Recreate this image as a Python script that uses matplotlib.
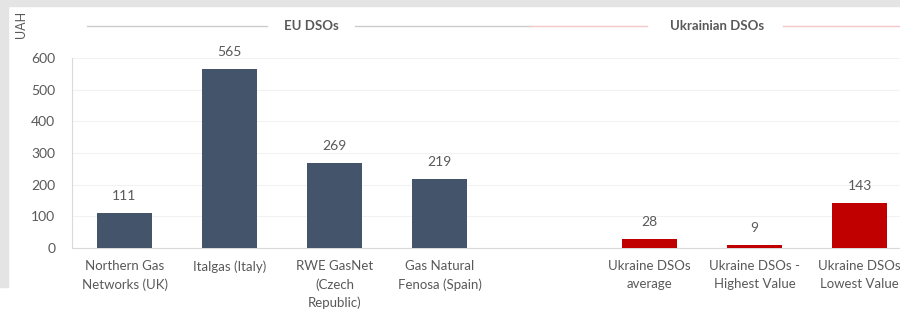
import matplotlib.pyplot as plt
import matplotlib.patches as mpatches
from matplotlib.lines import Line2D
import numpy as np

plt.rcParams['font.family'] = ['Lato', 'DejaVu Sans']

eu_labels = ['Northern Gas\nNetworks (UK)', 'Italgas (Italy)', 'RWE GasNet\n(Czech\nRepublic)', 'Gas Natural\nFenosa (Spain)']
eu_values = [111, 565, 269, 219]
ua_labels = ['Ukraine DSOs\naverage', 'Ukraine DSOs -\nHighest Value', 'Ukraine DSOs\nLowest Value']
ua_values = [28, 9, 143]
yticks = [0, 100, 200, 300, 400, 500, 600]

eu_color = '#44546a'
ua_color = '#c00000'
txt = '#595959'

fig = plt.figure(figsize=(9, 3.19), dpi=100)
fig.patch.set_facecolor('white')

# grey page strips around the pasted chart
fig.add_artist(mpatches.Rectangle((0, 1 - 6/319), 1, 6/319, transform=fig.transFigure,
                                  color='#e4e4e4', zorder=0))
fig.add_artist(mpatches.Rectangle((0, 1 - 287/319), 8/900, 287/319, transform=fig.transFigure,
                                  color='#e4e4e4', zorder=0))

ax = fig.add_axes([72/900, 1 - 248/319, 840/900, 190/319])

eu_x = np.arange(len(eu_values))
ua_x = np.arange(len(ua_values)) + len(eu_values) + 1
w = 0.52
b1 = ax.bar(eu_x, eu_values, width=w, color=eu_color, zorder=3)
b2 = ax.bar(ua_x, ua_values, width=w, color=ua_color, zorder=3)

for bars, vals in [(b1, eu_values), (b2, ua_values)]:
    for r, v in zip(bars, vals):
        ax.annotate(str(v), (r.get_x() + r.get_width()/2, v), xytext=(0, 8),
                    textcoords='offset points', ha='center', va='bottom',
                    fontsize=10, color=txt)

ax.set_xlim(-0.5, 7.5)
ax.set_ylim(0, 600)
ax.set_yticks(yticks)
ax.set_xticks(list(eu_x) + list(ua_x))
ax.set_xticklabels(eu_labels + ua_labels, fontsize=9.5, color=txt, linespacing=1.55)
ax.tick_params(axis='y', length=0, labelsize=10, labelcolor=txt, pad=12)
ax.tick_params(axis='x', length=0, pad=9)
ax.yaxis.grid(True, color='#f2f2f2', linewidth=0.8, zorder=0)
for s in ['top', 'right']:
    ax.spines[s].set_visible(False)
ax.spines['left'].set_color('#d9d9d9')
ax.spines['bottom'].set_color('#d9d9d9')

fig.text(21/900, 1 - 24/319, 'UAH', rotation=90, ha='center', va='center',
         fontsize=9, color=txt)

# group headers
hy = 1 - 26/319
fig.add_artist(Line2D([87/900, 267/900], [hy, hy], color='#cccccc', lw=1, transform=fig.transFigure))
fig.add_artist(Line2D([355/900, 530/900], [hy, hy], color='#cccccc', lw=1, transform=fig.transFigure))
fig.add_artist(Line2D([530/900, 647/900], [hy, hy], color='#f0c8c8', lw=1, transform=fig.transFigure))
fig.add_artist(Line2D([783/900, 1.0], [hy, hy], color='#f0c8c8', lw=1, transform=fig.transFigure))
fig.text(311/900, hy, 'EU DSOs', ha='center', va='center', fontsize=9.5,
         fontweight='bold', color=txt)
fig.text(717/900, hy, 'Ukrainian DSOs', ha='center', va='center', fontsize=9.5,
         fontweight='bold', color=txt)

fig.savefig('out.png', dpi=100)
